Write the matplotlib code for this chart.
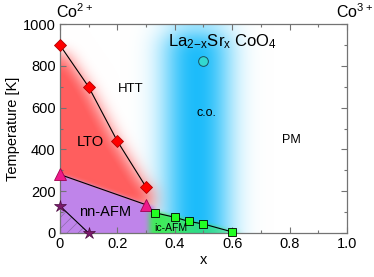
import numpy as np
import matplotlib
matplotlib.use("Agg")
import matplotlib.pyplot as plt
from matplotlib.patches import Polygon

plt.rcParams['font.family'] = ['Liberation Sans', 'DejaVu Sans']
plt.rcParams['mathtext.default'] = 'regular'
plt.rcParams['hatch.linewidth'] = 0.5

# data
lto_x = [0.0, 0.1, 0.2, 0.3]
lto_T = [900, 700, 440, 220]
nn_x = [0.0, 0.3]
nn_T = [280, 135]
star_x = [0.0, 0.1]
star_T = [130, 0]
ic_x = [0.33, 0.40, 0.45, 0.50, 0.60]
ic_T = [97, 75, 55, 43, 5]
co_x = [0.5]
co_T = [825]

fig = plt.figure(figsize=(3.74, 2.77), dpi=100)
ax = fig.add_axes([0.160, 0.159, 0.768, 0.754])

# background shading
nx, ny = 500, 500
xs = np.linspace(0, 1, nx)
ts = np.linspace(0, 1000, ny)
X, T = np.meshgrid(xs, ts)
img = np.ones((ny, nx, 3))


def gblur(m, sx, sy):
    def k(s):
        r = int(3 * s) + 1
        g = np.exp(-0.5 * (np.arange(-r, r + 1) / s) ** 2)
        return g / g.sum(), r
    kx, rx = k(sx)
    m = np.pad(m, ((0, 0), (rx, rx)), mode='reflect')
    m = np.apply_along_axis(lambda v: np.convolve(v, kx, mode='valid'), 1, m)
    ky, ry = k(sy)
    m = np.pad(m, ((ry, ry), (0, 0)), mode='reflect')
    m = np.apply_along_axis(lambda v: np.convolve(v, ky, mode='valid'), 0, m)
    return m


def blend(img, a, c):
    a = np.clip(a, 0, 1)[..., None]
    return img * (1 - a) + np.array(c) * a

# blue charge-order band
m_b = ((X > 0.375) & (X < 0.575) & (T < 960)).astype(float)
a_b = gblur(m_b, 0.055 * nx, 50 / 1000 * ny)
img = blend(img, a_b, (0.05, 0.72, 0.98))

# red LTO region
xl = np.interp(T, lto_T[::-1], lto_x[::-1], left=0.32, right=0.0)
Tt = np.interp(X, [0.0, 0.3, 0.33], [280, 135, 125])
m_r = ((X < xl - 0.005) & (T > Tt - 30) & (T < 880)).astype(float)
a_r = gblur(m_r, 0.03 * nx, 28 / 1000 * ny)
img = blend(img, a_r * 1.05, (1.0, 0.37, 0.37))

# purple nn-AFM
m_p = ((T < Tt) & (X < 0.325)).astype(float)
a_p = gblur(m_p, 0.007 * nx, 6 / 1000 * ny)
img = blend(img, a_p, (0.75, 0.52, 0.92))

# green ic-AFM
Tg = np.interp(X, [0.3] + ic_x, [100] + ic_T)
m_g = ((T < Tg + 5) & (X > 0.31) & (X < 0.62)).astype(float)
a_g = gblur(m_g, 0.01 * nx, 8 / 1000 * ny)
a_g *= np.clip(1 - (X - 0.35) / 0.45, 0.45, 1)
img = blend(img, a_g * 0.95, (0.22, 0.92, 0.32))

ax.imshow(img, extent=[0, 1, 0, 1000], origin='lower', aspect='auto',
          interpolation='bilinear', zorder=0)

# hatched region
hatch_poly = Polygon([(star_x[0], 0), (star_x[0], star_T[0]), (star_x[1], star_T[1])],
                     closed=True, fill=False, hatch='///', edgecolor=(0.55, 0.42, 0.68),
                     linewidth=0, zorder=1)
ax.add_patch(hatch_poly)

# lines and markers
ax.plot(lto_x, lto_T, '-', color='black', lw=0.8, zorder=2)
ax.plot(lto_x, lto_T, 'D', ms=6, mfc='#ff0000', mec='#b00000', mew=0.6, zorder=3, clip_on=False)
ax.plot(nn_x, nn_T, '-', color='black', lw=0.8, zorder=2)
ax.plot(nn_x, nn_T, '^', ms=8, mfc='#ee1a8a', mec='#a00050', mew=0.6, zorder=3, clip_on=False)
ax.plot(star_x, star_T, '-', color='black', lw=0.8, zorder=2)
ax.plot(star_x, star_T, '*', ms=9, mfc='#7a1a6a', mec='#4a0a40', mew=0.5, zorder=3, clip_on=False)
ax.plot(ic_x, ic_T, '-', color='black', lw=0.8, zorder=2)
ax.plot(ic_x, ic_T, 's', ms=6, mfc='#22ff22', mec='black', mew=0.6, zorder=3, clip_on=False)
ax.plot(co_x, co_T, 'o', ms=7, mfc='#33d8d0', mec='#1a5060', mew=0.7, zorder=3)

# labels
fs = 10.5
ax.text(0.245, 690, 'HTT', fontsize=9.5, ha='center', va='center')
ax.text(0.105, 435, 'LTO', fontsize=10.5, ha='center', va='center')
ax.text(0.51, 575, 'c.o.', fontsize=9, ha='center', va='center')
ax.text(0.805, 445, 'PM', fontsize=9, ha='center', va='center')
ax.text(0.157, 98, 'nn-AFM', fontsize=10.5, ha='center', va='center')
ax.text(0.385, 22, 'ic-AFM', fontsize=7.5, ha='center', va='center')
ax.text(0.565, 915, r'La$_{2\!-\!x}$Sr$_x$ CoO$_4$', fontsize=12, ha='center', va='center')
ax.text(-0.015, 1015, r'Co$^{2+}$', fontsize=11.5, ha='left', va='bottom', clip_on=False)
ax.text(1.09, 1015, r'Co$^{3+}$', fontsize=11.5, ha='right', va='bottom', clip_on=False)

ax.set_xlim(0, 1)
ax.set_ylim(0, 1000)
ax.set_xticks([0, 0.2, 0.4, 0.6, 0.8, 1.0])
ax.set_xticklabels(['0', '0.2', '0.4', '0.6', '0.8', '1.0'])
ax.set_yticks([0, 200, 400, 600, 800, 1000])
ax.set_xticks(np.arange(0, 1.01, 0.1), minor=True)
ax.set_yticks(np.arange(0, 1001, 100), minor=True)
ax.tick_params(which='both', direction='in', top=True, right=True, color='0.45',
               labelsize=fs, pad=3, width=0.8)
ax.tick_params(which='major', length=4)
ax.tick_params(which='minor', length=2.5)
for s in ax.spines.values():
    s.set_color('0.45')
    s.set_linewidth(0.9)
ax.set_xlabel('x', fontsize=fs, labelpad=1)
ax.set_ylabel('Temperature [K]', fontsize=fs, labelpad=2)

fig.savefig('out.png', dpi=100)
